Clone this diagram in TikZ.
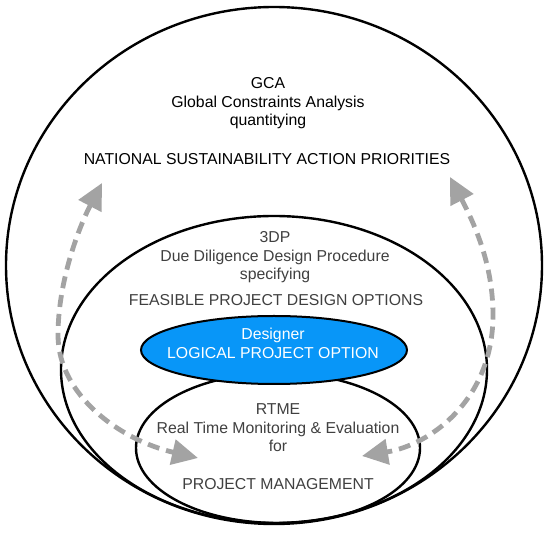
\documentclass[tikz,border=0pt]{standalone}
\usepackage{fontspec}
\setmainfont{Liberation Sans}
\usetikzlibrary{shapes.geometric,arrows.meta}
\definecolor{logicblue}{HTML}{0896F8}
\definecolor{flowgray}{HTML}{A3A3A3}
\definecolor{inktext}{HTML}{404040}
\tikzset{
  ring/.style={draw=black, line width=2.4pt, ellipse, inner sep=0pt, outer sep=0pt},
  blueell/.style={draw=black, line width=2pt, fill=logicblue, ellipse, inner sep=0pt,
    minimum width=266pt, minimum height=68pt},
  lbl/.style={align=center, inner sep=0pt, font=\fontsize{15.8}{18.6}\selectfont},
  outerlbl/.style={lbl, text=black},
  innerlbl/.style={lbl, text=inktext},
  whitelbl/.style={lbl, text=white},
  flow/.style={draw=flowgray, line width=4.8pt, dash pattern=on 12pt off 7pt,
    {Triangle[length=26pt,width=25pt]}-{Triangle[length=26pt,width=25pt]}}
}
\begin{document}
\begin{tikzpicture}[x=1pt,y=-1pt]
\useasboundingbox[fill=white] (0,0) rectangle (547,534);
% rings
\node[ring, minimum width=536pt, minimum height=517pt] (gcaring) at (274,265.5) {};
\node[ring, minimum width=426pt, minimum height=307pt] (dpring) at (274,369.5) {};
\node[ring, minimum width=284pt, minimum height=150pt] (rtmering) at (278,448) {};
\node[blueell] (logic) at (274,350) {};
% texts
\node[outerlbl] (gca) at (268,103.5) {GCA\\Global Constraints Analysis\\quantitying};
\node[outerlbl] (national) at (267,159) {NATIONAL SUSTAINABILITY ACTION PRIORITIES};
\node[innerlbl] (dp) at (275,257.5) {3DP\\Due Diligence Design Procedure\\specifying};
\node[innerlbl] (feasible) at (276,300) {FEASIBLE PROJECT DESIGN OPTIONS};
\node[whitelbl] (logictext) at (273,343.5) {Designer\\LOGICAL PROJECT OPTION};
\node[innerlbl] (rtme) at (278,428) {RTME\\Real Time Monitoring \& Evaluation\\for};
\node[innerlbl] (pm) at (278,484) {PROJECT MANAGEMENT};
% arrows
\coordinate (lt) at (102,183);
\coordinate (lm) at (58,335);
\coordinate (lb) at (198,458);
\coordinate (rt) at (450,177);
\coordinate (rm) at (493,315);
\coordinate (rb) at (362,456);
\draw[flow] (lt) .. controls (80,225) and (58,280) .. (lm)
  .. controls (58,395) and (120,440) .. (lb);
\draw[flow] (rt) .. controls (475,225) and (493,265) .. (rm)
  .. controls (493,400) and (430,445) .. (rb);
\end{tikzpicture}
\end{document}
